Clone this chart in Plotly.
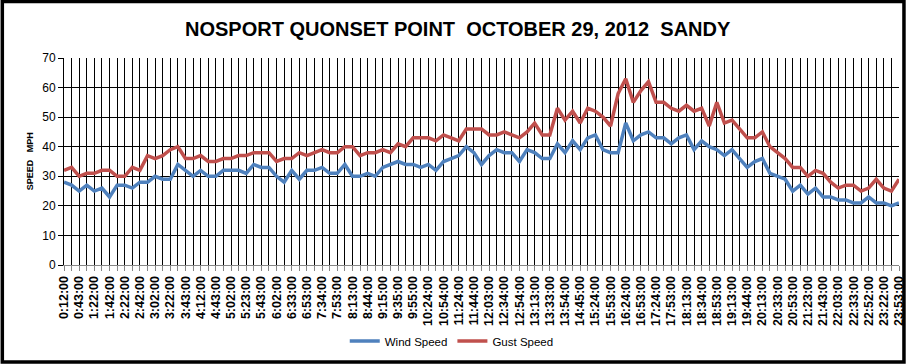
import plotly.graph_objects as go

tick_labels = ["0:12:00", "0:43:00", "1:22:00", "1:42:00", "2:22:00", "2:42:00", "3:02:00", "3:22:00",
               "3:43:00", "4:12:00", "4:43:00", "5:02:00", "5:23:00", "5:43:00", "6:02:00", "6:33:00",
               "6:53:00", "7:34:00", "7:53:00", "8:13:00", "8:44:00", "9:15:00", "9:35:00", "9:55:00",
               "10:24:00", "10:54:00", "11:24:00", "11:44:00", "12:03:00", "12:34:00", "12:54:00", "13:13:00",
               "13:33:00", "13:54:00", "14:45:00", "15:24:00", "15:53:00", "16:24:00", "16:53:00", "17:24:00",
               "17:53:00", "18:13:00", "18:34:00", "18:53:00", "19:13:00", "19:44:00", "20:13:00", "20:33:00",
               "20:53:00", "21:23:00", "21:43:00", "22:03:00", "22:33:00", "22:52:00", "23:22:00", "23:53:00"]

wind_speed = [28, 27, 25, 27, 25, 26, 23, 27, 27, 26, 28, 28, 30, 29, 29, 34, 32, 30, 32, 30,
              30, 32, 32, 32, 31, 34, 33, 33, 30, 28, 32, 29, 32, 32, 33, 31, 31, 34, 30, 30,
              31, 30, 33, 34, 35, 34, 34, 33, 34, 32, 35, 36, 37, 40, 38, 34, 37, 39, 38, 38,
              35, 39, 38, 36, 36, 41, 38, 42, 39, 43, 44, 39, 38, 38, 48, 42, 44, 45, 43, 43,
              41, 43, 44, 39, 42, 40, 39, 37, 39, 36, 33, 35, 36, 31, 30, 29, 25, 27, 24, 26,
              23, 23, 22, 22, 21, 21, 23, 21, 21, 20, 21]

gust_speed = [32, 33, 30, 31, 31, 32, 32, 30, 30, 33, 32, 37, 36, 37, 39, 40, 36, 36, 37, 35,
              35, 36, 36, 37, 37, 38, 38, 38, 35, 36, 36, 38, 37, 38, 39, 38, 38, 40, 40, 37,
              38, 38, 39, 38, 41, 40, 43, 43, 43, 42, 44, 43, 42, 46, 46, 46, 44, 44, 45, 44,
              43, 45, 48, 44, 44, 53, 49, 52, 48, 53, 52, 50, 47, 58, 63, 55, 59, 62, 55, 55,
              53, 52, 54, 52, 53, 47, 55, 48, 49, 46, 43, 43, 45, 40, 38, 36, 33, 33, 30, 32,
              31, 28, 26, 27, 27, 25, 26, 29, 26, 25, 29]

x = list(range(len(wind_speed)))
label_pos = x[::2]

W, H = 913, 364
L, R, T, B = 64, 7, 58, 99
pw, ph = W - L - R, H - T - B

def px(xp):
    return (xp - L) / pw

def py(yp):
    return (H - B - yp) / ph

fig = go.Figure()
fig.add_trace(go.Scatter(x=x, y=wind_speed, mode="lines", name="Wind Speed",
                         line=dict(color="#4F81BD", width=3.5)))
fig.add_trace(go.Scatter(x=x, y=gust_speed, mode="lines", name="Gust Speed",
                         line=dict(color="#C0504D", width=3.5)))

fig.update_layout(
    width=W, height=H,
    margin=dict(l=L, r=R, t=T, b=B, pad=0),
    paper_bgcolor="white", plot_bgcolor="white",
    font=dict(family="Liberation Sans, Arial, sans-serif", color="black"),
    title=dict(text="NOSPORT QUONSET POINT\u00a0\u00a0OCTOBER 29, 2012\u00a0\u00a0SANDY",
               x=px(461), xref="paper", xanchor="center",
               y=1 - 29 / H, yref="container", yanchor="middle",
               font=dict(size=20, family="Liberation Sans, Arial, sans-serif", color="black", weight="bold")),
    showlegend=True,
    legend=dict(orientation="h", x=px(455), xanchor="center", y=py(341), yanchor="middle",
                font=dict(size=11.5), bgcolor="rgba(0,0,0,0)", itemwidth=30, tracegroupgap=0),
    xaxis=dict(range=[0, len(x) - 1], tickmode="array", tickvals=label_pos, ticktext=tick_labels,
               tickangle=-90, tickfont=dict(size=12.5, weight="bold"), ticklabeloverflow="allow",
               ticks="outside", ticklen=5, tickcolor="#868686", tickwidth=1,
               showgrid=True, gridcolor="black", gridwidth=1.2,
               minor=dict(dtick=1, tick0=0, showgrid=True, gridcolor="black", gridwidth=1.2,
                          ticks="outside", ticklen=5, tickcolor="#868686", tickwidth=1),
               showline=True, linecolor="#868686", linewidth=1, zeroline=False, fixedrange=True),
    yaxis=dict(range=[0, 70], dtick=10, tick0=0, tickfont=dict(size=12),
               ticks="outside", ticklen=5, tickcolor="black", tickwidth=1,
               showgrid=True, gridcolor="black", gridwidth=1.4,
               showline=True, linecolor="black", linewidth=1, zeroline=False, fixedrange=True),
    annotations=[dict(text="SPEED\u00a0\u00a0\u00a0MPH", x=px(30), y=py(161), xref="paper", yref="paper",
                      textangle=-90, showarrow=False, xanchor="center", yanchor="middle",
                      font=dict(size=9, weight="bold"))],
    shapes=[dict(type="rect", xref="paper", yref="paper",
                 x0=px(1.8), x1=px(911), y0=py(1.5), y1=py(362),
                 line=dict(color="black", width=3.5), layer="above")],
)

fig.write_html("out.html")
